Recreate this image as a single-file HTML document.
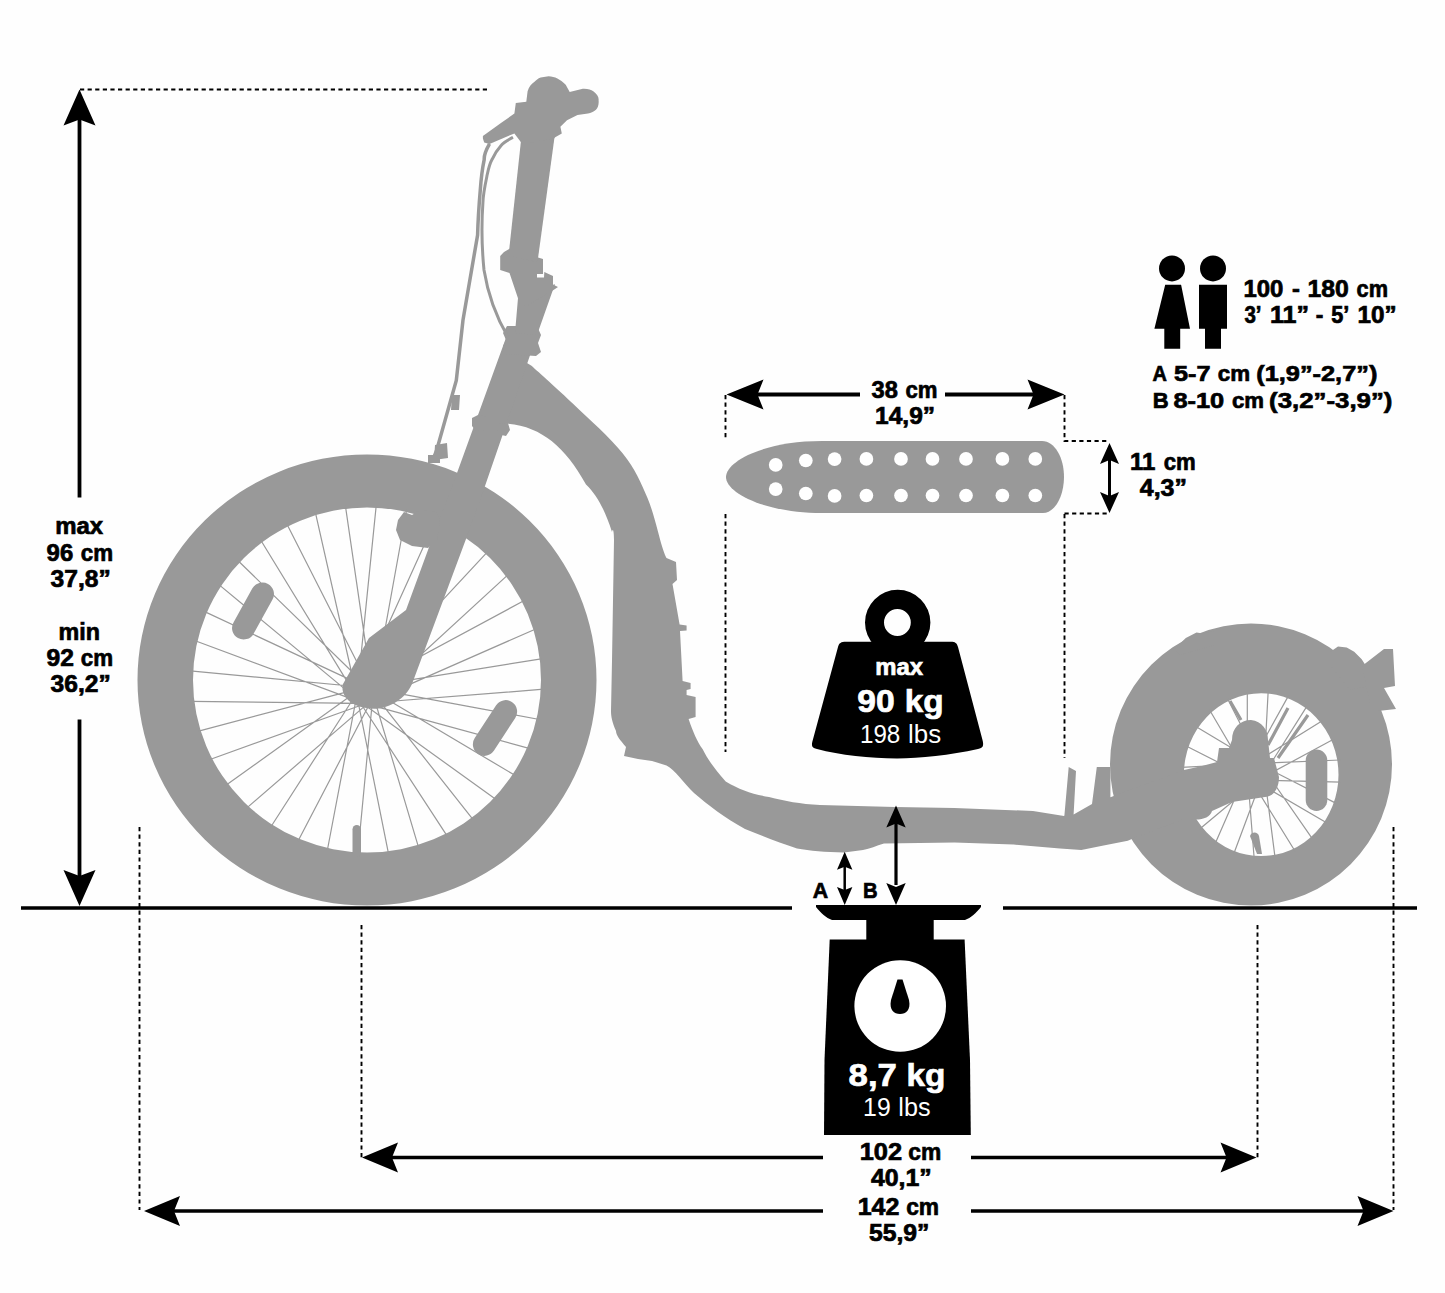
<!DOCTYPE html>
<html><head><meta charset="utf-8"><title>Scooter dimensions</title>
<style>
html,body{margin:0;padding:0;background:#fefefe;}
body{width:1445px;height:1293px;overflow:hidden;}
svg{display:block;}
text{font-family:"Liberation Sans", sans-serif;}
</style></head>
<body>
<svg width="1445" height="1293" viewBox="0 0 1445 1293">
<rect width="1445" height="1293" fill="#fefefe"/>
<path fill="#999999" fill-rule="evenodd" d="M137.5 680 a229.5 225.5 0 1 0 459 0 a229.5 225.5 0 1 0 -459 0 Z M193 680 a174 172.5 0 1 0 348 0 a174 172.5 0 1 0 -348 0 Z"/>
<path d="M369.1 703.0L543.8 689.2M371.1 688.4L539.5 719.5M366.1 703.9L529.9 748.6M373.0 690.9L515.4 775.6M363.0 703.8L496.4 799.7M373.9 693.9L473.5 820.2M360.1 702.5L447.4 836.4M373.8 697.0L418.7 847.8M357.8 700.4L388.6 854.2M372.5 699.9L357.7 855.3M356.4 697.6L327.2 851.0M370.4 702.2L297.8 841.5M356.0 694.5L270.6 827.2M367.6 703.6L246.3 808.4M356.7 691.5L225.6 785.6M364.5 704.0L209.3 759.7M358.4 688.9L197.7 731.3M361.5 703.3L191.3 701.4M360.9 687.0L190.2 670.8M358.9 701.6L194.5 640.5M363.9 686.1L204.1 611.4M357.0 699.1L218.6 584.4M367.0 686.2L237.6 560.3M356.1 696.1L260.5 539.8M369.9 687.5L286.6 523.6M356.2 693.0L315.3 512.2M372.2 689.6L345.4 505.8M357.5 690.1L376.3 504.7M373.6 692.4L406.8 509.0M359.6 687.8L436.2 518.5M374.0 695.5L463.4 532.8M362.4 686.4L487.7 551.6M373.3 698.5L508.4 574.4M365.5 686.0L524.7 600.3M371.6 701.1L536.3 628.7M368.5 686.7L542.7 658.6" stroke="#999999" stroke-width="1.2" fill="none"/>
<rect x="-11.5" y="-31" width="23" height="62" rx="11.5" fill="#999999" transform="translate(253 611) rotate(29)"/>
<rect x="-11.5" y="-31" width="23" height="62" rx="11.5" fill="#999999" transform="translate(495 728) rotate(33)"/>
<rect x="352.5" y="825" width="8.5" height="32" rx="4.25" fill="#999999"/>
<path fill="#999999" fill-rule="evenodd" d="M1110 764.5 a141 141 0 1 0 282 0 a141 141 0 1 0 -282 0 Z M1183.9 774.7 a77.3 81.4 0 1 0 154.6 0 a77.3 81.4 0 1 0 -154.6 0 Z"/>
<path d="M1261.7 780.2L1341.2 782.1M1264.7 767.0L1336.7 803.6M1256.9 782.0L1327.0 823.1M1266.0 772.0L1312.8 839.4M1251.8 781.1L1295.1 851.2M1264.7 777.0L1275.1 857.8M1247.8 777.7L1254.2 858.8M1261.0 780.7L1233.7 854.0M1246.0 772.9L1215.1 843.8M1256.0 782.0L1199.7 829.0M1246.9 767.8L1188.4 810.4M1251.0 780.7L1182.1 789.4M1250.3 763.8L1181.2 767.3M1247.3 777.0L1185.7 745.8M1255.1 762.0L1195.4 726.3M1246.0 772.0L1209.6 710.0M1260.2 762.9L1227.3 698.2M1247.3 767.0L1247.3 691.6M1264.2 766.3L1268.2 690.6M1251.0 763.3L1288.7 695.4M1266.0 771.1L1307.3 705.6M1256.0 762.0L1322.7 720.4M1265.1 776.2L1334.0 739.0M1261.0 763.3L1340.3 760.0" stroke="#999999" stroke-width="1.2" fill="none"/>
<path stroke="#999999" stroke-width="3.2" d="M1230 701 L1241 720 M1288 708 L1268 745 M1308 715 L1278 758"/>
<rect x="1305.7" y="749.6" width="21.6" height="61.3" rx="10.8" fill="#999999"/>
<path fill="#999999" d="M1250 836 C1252 831 1258 832 1259 836 L1262 854 L1257 854 Z"/>
<path fill="#999999" d="M1184 770 L1202 766 L1217 762 L1219 748 L1229 748 L1232 740 C1232 728 1240 720 1251 720 C1262 721 1268 730 1268 740 L1270 758 L1274 758 L1279 777 C1279 790 1272 797 1265 797 L1232 802 L1212 811 C1210 818 1200 821 1190 819 L1184 819 Z"/>
<path fill="#999999" d="M1175 650 L1179.4 644.3 L1185.8 637.9 L1196.5 632.5 L1203 633.6 L1215 631 L1215 645 L1180 655 Z M1330 652 L1338 646.5 L1346.7 647.5 L1354.2 651.8 L1361.7 659.3 L1366 666 L1373 685 L1350 690 L1330 665 Z"/>
<path fill="#999999" d="M1362 666 L1384 649 L1393 649 L1395 686 L1384 688 L1396 709 L1378 711 L1370 703 Z"/>
<path fill="#999999" d="M531.5 365.8 C538.5 372.2 558.1 389.4 573.3 404 C588.5 418.6 610.4 437.8 622.8 453.5 C635.2 469.2 640.9 482.3 647.5 498 C654.1 513.7 659.2 537.5 662.4 547.5 C665.6 557.5 665.8 556.2 666.5 558 L666.5 558 L676 562 L677 580 L672.5 584 L679.6 624.5 L686.6 625.5 L686.6 630.6 L680 631 L682.6 681 L690.6 683 L690.6 689 L686.6 690 L686.6 695 L695.6 697 L695.6 717 L688.6 719 C693 732 697 741 702.7 749.3 C708 760 714 768 725.7 781.5 C740 790 752 794 769 797 C785 801 800 804 820 805 L895 807 L954.5 808 L1033 811 L1064 816 L1064.4 815.6 L1068.7 767 L1076 771 L1073.6 814.6 L1092 804 L1096.8 767 L1110.4 767 L1110.4 797.2 L1184 770 L1184 819 L1136.5 837 L1127.8 840.8 L1103.6 845.6 L1081.3 850 L1060 848.5 L1013.6 844.6 L954.5 842.6 L884 843.6 C876 846 870 849 863 850 L844 852.5 C825 852 810 851 797 848.5 C780 843 762 836 745 829 C725 818 708 805 694 793 C684 783 675 770 666.5 765.4 L652 761 L638 759 L624 756 L626 747 C620 740 616 735 616 731 C612 722 611 716 611 711 L612 660.7 L614 540 C614 532 613 527 612 532 C605 510 597 495 586 484.4 C575 465 565 452 551.6 441 C540 432 525 425 508 423.8 L500 424 L522 360 Z"/>
<path fill="#999999" d="M507 335 L537 335 L485 486 L466 539 L412 684 C405 700 385 712 367 708 C350 706 340 695 343 684 L369 638 L406 610 L428 550 L457 473 Z"/>
<path fill="#999999" d="M398 520 L404 512 L412 515 L420 510 L436 512 L440 520 L437 540 L428 548 L412 546 L400 540 L396 530 Z"/>
<path fill="#999999" d="M472 418 L480 414 L487 418 L487 430 L476 431 L472 426 Z M499 424 L508 423 L510 430 L506 436 L497 434 Z"/>
<path fill="#999999" d="M507 326 L537 326 L541 335 L538 343 L541 352 L536 356 L504 354 L503 346 L506 340 L503 333 Z"/>
<path fill="#999999" d="M518 298 L525.7 300 L555 284 L537 335 L515 333 Z"/>
<path fill="#999999" d="M510 248.6 L535.6 256.7 L543 259 L543 274 L537 274 L537 277.6 L544 277.6 L544.3 272 L553 276 L553 284.5 L558 286.9 L553.5 290 L525.7 306.6 L520 304.3 L509.5 273 L500.2 270 L500.2 256 L504 252 Z"/>
<path fill="#999999" d="M521.5 136 L555.5 130 L537.5 262 L508.5 256 Z"/>
<path fill="#999999" d="M548.6 76.2 C555 76.5 560 79 565.7 84.7 L569.7 91.9 L582.8 88.7 C588 88.5 591 89.5 593.3 91.3 C597 94 599 97 598.6 100.5 C599 104 598 108 596 109.7 C593 112 591 113 588 113.6 L577.5 115 L567 120.2 L560.4 126.8 L561.8 133.4 L555.2 137.3 L553.9 138.6 L522.3 143.9 L514.4 133.4 L489.5 143.9 L484.2 142.6 L482.9 138.6 L482.9 136 L501.3 122.8 L514.4 113.6 L515.8 103.1 L526.3 101.8 L527.6 91.3 C529 87 531 84 534.2 82.1 C536 80 538 78.5 540.7 77.5 Z"/>
<path fill="none" stroke="#999999" stroke-width="3.5" d="M489.5 143.9 C486 150 484 156 484.2 159.6 C482 170 481 180 480.3 189.9 C479 205 478 220 477.6 235 L463 320 L456.3 380.5 L436.8 449.8 L432 462"/>
<path fill="none" stroke="#999999" stroke-width="3" d="M513 137.3 C508 140 504 142 501.3 145.2 C497 150 494 155 492 159.6 C489 165 488 171 486.8 176.7 C484 190 483 196 482.9 203 C481 230 482 250 484 270 C488 295 495 315 508 337"/>
<path fill="#999999" d="M452 395 L460 395 L459 410 L451 410 Z M435 445 L447 443 L448 458 L434 460 Z M428 455 L440 455 L440 463 L428 463 Z"/>
<path fill="#999999" d="M726 477 C726 461 765 441 822 441 L1042 441 C1055 441 1064 458 1064 477 C1064 496 1055 513 1043 513 L822 513 C765 513 726 493 726 477 Z"/>
<circle cx="775.7" cy="464.9" r="6.85" fill="#fff"/>
<circle cx="805.8" cy="460.5" r="6.85" fill="#fff"/>
<circle cx="834.6" cy="459.1" r="6.85" fill="#fff"/>
<circle cx="866.4" cy="458.9" r="6.85" fill="#fff"/>
<circle cx="901" cy="458.9" r="6.85" fill="#fff"/>
<circle cx="932.5" cy="458.9" r="6.85" fill="#fff"/>
<circle cx="966" cy="458.9" r="6.85" fill="#fff"/>
<circle cx="1002.4" cy="458.9" r="6.85" fill="#fff"/>
<circle cx="1035.3" cy="458.9" r="6.85" fill="#fff"/>
<circle cx="775.7" cy="489.1" r="6.85" fill="#fff"/>
<circle cx="805.8" cy="493.5" r="6.85" fill="#fff"/>
<circle cx="834.6" cy="495.9" r="6.85" fill="#fff"/>
<circle cx="866.4" cy="495.5" r="6.85" fill="#fff"/>
<circle cx="901" cy="495.5" r="6.85" fill="#fff"/>
<circle cx="932.5" cy="495.5" r="6.85" fill="#fff"/>
<circle cx="966" cy="495.5" r="6.85" fill="#fff"/>
<circle cx="1002.4" cy="495.5" r="6.85" fill="#fff"/>
<circle cx="1035.3" cy="495.5" r="6.85" fill="#fff"/>
<path stroke="#000" stroke-width="3.5" d="M21 908 L792 908 M1003 908 L1417 908"/>
<path stroke="#000" stroke-width="1.9" stroke-dasharray="4.2 3.4" fill="none" d="M80 89.5 L487 89.5"/>
<path stroke="#000" stroke-width="1.9" stroke-dasharray="4.2 3.4" fill="none" d="M139.5 827 L139.5 1210 M361.5 925 L361.5 1158 M1257.5 925 L1257.5 1158 M1393.5 827 L1393.5 1210"/>
<path stroke="#000" stroke-width="1.9" stroke-dasharray="4.2 3.4" fill="none" d="M725.5 395 L725.5 440 M725.5 514 L725.5 752 M1064.5 395 L1064.5 441 L1107 441 M1064.5 513.5 L1107 513.5 M1064.5 514 L1064.5 758"/>
<path stroke="#000" stroke-width="3.8" d="M79.5 118 L79.5 497.5 M79.5 719.5 L79.5 880"/>
<path fill="#000" d="M79.5 89.5 L63.5 125.5 L79.5 119.5 L95.5 125.5 Z"/>
<path fill="#000" d="M79.5 906 L63.5 870 L79.5 876 L95.5 870 Z"/>
<path stroke="#000" stroke-width="3.5" d="M390 1157.5 L823 1157.5 M971 1157.5 L1228 1157.5 M172 1211 L823 1211 M971 1211 L1365 1211"/>
<path fill="#000" d="M362 1157.5 L398 1142.5 L392 1157.5 L398 1172.5 Z"/>
<path fill="#000" d="M1256.5 1157.5 L1220.5 1142.5 L1226.5 1157.5 L1220.5 1172.5 Z"/>
<path fill="#000" d="M144 1211 L180 1196 L174 1211 L180 1226 Z"/>
<path fill="#000" d="M1393.5 1211 L1357.5 1196 L1363.5 1211 L1357.5 1226 Z"/>
<path stroke="#000" stroke-width="4" d="M755 394.5 L860 394.5 M945 394.5 L1036 394.5"/>
<path fill="#000" d="M726.5 394.5 L763.5 379.5 L757.5 394.5 L763.5 409.5 Z"/>
<path fill="#000" d="M1064.5 394.5 L1027.5 379.5 L1033.5 394.5 L1027.5 409.5 Z"/>
<path stroke="#000" stroke-width="3" d="M1109.5 460 L1109.5 497"/>
<path fill="#000" d="M1109.5 443 L1100.0 464 L1109.5 460 L1119.0 464 Z"/>
<path fill="#000" d="M1109.5 513 L1100.0 492 L1109.5 496 L1119.0 492 Z"/>
<path stroke="#000" stroke-width="2.5" d="M844.7 866 L844.7 890"/>
<path fill="#000" d="M844.7 851.7 L837.0 869.7 L844.7 866.7 L852.4000000000001 869.7 Z"/>
<path fill="#000" d="M844.7 905 L837.0 887 L844.7 890 L852.4000000000001 887 Z"/>
<path stroke="#000" stroke-width="3.2" d="M896 822 L896 885"/>
<path fill="#000" d="M896 805.4 L886.3 827.4 L896 823.4 L905.7 827.4 Z"/>
<path fill="#000" d="M896 905 L886.3 883 L896 887 L905.7 883 Z"/>
<path fill="#000" fill-rule="evenodd" d="M865 622.5 a32.7 32.7 0 1 0 65.4 0 a32.7 32.7 0 1 0 -65.4 0 Z M884 622.5 a13.4 13.4 0 1 0 26.8 0 a13.4 13.4 0 1 0 -26.8 0 Z"/>
<path fill="#000" d="M846 641.7 L951 641.7 C955 641.7 957 643 958 647 L982.5 740 C984 746 983 748 978 749 C950 755 920 758.5 897 758.5 C870 758.5 840 755 817 749 C812 748 811 746 812.8 740 L838 647 C839 643 841 641.7 846 641.7 Z"/>
<path fill="#000" d="M816 905 L981 905 L981 907 C976 913 971 918 965 920 L832 920 C826 918 821 913 816 907 Z M866.3 919 L933.7 919 L933.7 940 L866.3 940 Z"/>
<path fill="#000" d="M829.7 939.4 L964.6 939.4 L970 1060 L970.8 1135 L824 1135 L824.5 1060 Z"/>
<circle cx="900.2" cy="1006" r="45.8" fill="#fff"/>
<path fill="#000" d="M897.5 979.5 L902.5 979.5 L909 1000 C911 1010 906 1014 900 1014 C894 1014 889 1010 891 1000 Z"/>
<circle cx="1172" cy="268.4" r="13" fill="#000"/><circle cx="1213" cy="268.4" r="13" fill="#000"/>
<path fill="#000" d="M1165.2 284.8 L1181.1 284.8 L1190 328.8 L1154.4 328.8 Z M1164.3 328 L1180.2 328 L1180.2 348.7 L1164.3 348.7 Z"/>
<path fill="#000" d="M1199 284.8 L1227 284.8 L1227 328.8 L1199 328.8 Z M1205 328 L1221 328 L1221 348.7 L1205 348.7 Z"/>
<text x="55.20" y="533.6" font-size="23.5" font-weight="bold" fill="#000" stroke="#000" stroke-width="0.7" textLength="47.90" lengthAdjust="spacingAndGlyphs">max</text>
<text x="46.60" y="561.0" font-size="23.5" font-weight="bold" fill="#000" stroke="#000" stroke-width="0.7" textLength="26.60" lengthAdjust="spacingAndGlyphs">96</text>
<text x="80.80" y="561.0" font-size="23.5" font-weight="bold" fill="#000" stroke="#000" stroke-width="0.7" textLength="32.30" lengthAdjust="spacingAndGlyphs">cm</text>
<text x="50.60" y="587.1" font-size="23.5" font-weight="bold" fill="#000" stroke="#000" stroke-width="0.7" textLength="60.20" lengthAdjust="spacingAndGlyphs">37,8”</text>
<text x="58.60" y="640.0" font-size="23.5" font-weight="bold" fill="#000" stroke="#000" stroke-width="0.7" textLength="41.40" lengthAdjust="spacingAndGlyphs">min</text>
<text x="46.60" y="666.3" font-size="23.5" font-weight="bold" fill="#000" stroke="#000" stroke-width="0.7" textLength="27.40" lengthAdjust="spacingAndGlyphs">92</text>
<text x="80.80" y="666.3" font-size="23.5" font-weight="bold" fill="#000" stroke="#000" stroke-width="0.7" textLength="32.30" lengthAdjust="spacingAndGlyphs">cm</text>
<text x="50.60" y="692.3" font-size="23.5" font-weight="bold" fill="#000" stroke="#000" stroke-width="0.7" textLength="60.20" lengthAdjust="spacingAndGlyphs">36,2”</text>
<text x="871.60" y="397.7" font-size="23.5" font-weight="bold" fill="#000" stroke="#000" stroke-width="0.7" textLength="26.30" lengthAdjust="spacingAndGlyphs">38</text>
<text x="905.50" y="397.7" font-size="23.5" font-weight="bold" fill="#000" stroke="#000" stroke-width="0.7" textLength="32.00" lengthAdjust="spacingAndGlyphs">cm</text>
<text x="875.10" y="423.9" font-size="23.5" font-weight="bold" fill="#000" stroke="#000" stroke-width="0.7" textLength="60.00" lengthAdjust="spacingAndGlyphs">14,9”</text>
<text x="1129.90" y="469.9" font-size="23.5" font-weight="bold" fill="#000" stroke="#000" stroke-width="0.7" textLength="25.40" lengthAdjust="spacingAndGlyphs">11</text>
<text x="1163.80" y="469.9" font-size="23.5" font-weight="bold" fill="#000" stroke="#000" stroke-width="0.7" textLength="32.00" lengthAdjust="spacingAndGlyphs">cm</text>
<text x="1139.80" y="496.4" font-size="23.5" font-weight="bold" fill="#000" stroke="#000" stroke-width="0.7" textLength="47.20" lengthAdjust="spacingAndGlyphs">4,3”</text>
<text x="1243.40" y="296.8" font-size="23.5" font-weight="bold" fill="#000" stroke="#000" stroke-width="0.7" textLength="40.00" lengthAdjust="spacingAndGlyphs">100</text>
<text x="1292.00" y="296.8" font-size="23.5" font-weight="bold" fill="#000" stroke="#000" stroke-width="0.7" textLength="7.90" lengthAdjust="spacingAndGlyphs">-</text>
<text x="1307.50" y="296.8" font-size="23.5" font-weight="bold" fill="#000" stroke="#000" stroke-width="0.7" textLength="41.30" lengthAdjust="spacingAndGlyphs">180</text>
<text x="1356.60" y="296.8" font-size="23.5" font-weight="bold" fill="#000" stroke="#000" stroke-width="0.7" textLength="31.40" lengthAdjust="spacingAndGlyphs">cm</text>
<text x="1244.40" y="323.2" font-size="23.5" font-weight="bold" fill="#000" stroke="#000" stroke-width="0.7" textLength="17.10" lengthAdjust="spacingAndGlyphs">3’</text>
<text x="1269.90" y="323.2" font-size="23.5" font-weight="bold" fill="#000" stroke="#000" stroke-width="0.7" textLength="39.10" lengthAdjust="spacingAndGlyphs">11”</text>
<text x="1315.80" y="323.2" font-size="23.5" font-weight="bold" fill="#000" stroke="#000" stroke-width="0.7" textLength="7.60" lengthAdjust="spacingAndGlyphs">-</text>
<text x="1331.20" y="323.2" font-size="23.5" font-weight="bold" fill="#000" stroke="#000" stroke-width="0.7" textLength="18.10" lengthAdjust="spacingAndGlyphs">5’</text>
<text x="1357.50" y="323.2" font-size="23.5" font-weight="bold" fill="#000" stroke="#000" stroke-width="0.7" textLength="39.10" lengthAdjust="spacingAndGlyphs">10”</text>
<text x="1152.40" y="381.1" font-size="22.5" font-weight="bold" fill="#000" stroke="#000" stroke-width="0.7" textLength="14.40" lengthAdjust="spacingAndGlyphs">A</text>
<text x="1174.00" y="381.1" font-size="22.5" font-weight="bold" fill="#000" stroke="#000" stroke-width="0.7" textLength="36.50" lengthAdjust="spacingAndGlyphs">5-7</text>
<text x="1217.80" y="381.1" font-size="22.5" font-weight="bold" fill="#000" stroke="#000" stroke-width="0.7" textLength="32.30" lengthAdjust="spacingAndGlyphs">cm</text>
<text x="1256.20" y="381.1" font-size="22.5" font-weight="bold" fill="#000" stroke="#000" stroke-width="0.7" textLength="121.20" lengthAdjust="spacingAndGlyphs">(1,9”-2,7”)</text>
<text x="1152.70" y="407.6" font-size="22.5" font-weight="bold" fill="#000" stroke="#000" stroke-width="0.7" textLength="15.90" lengthAdjust="spacingAndGlyphs">B</text>
<text x="1173.40" y="407.6" font-size="22.5" font-weight="bold" fill="#000" stroke="#000" stroke-width="0.7" textLength="50.80" lengthAdjust="spacingAndGlyphs">8-10</text>
<text x="1231.90" y="407.6" font-size="22.5" font-weight="bold" fill="#000" stroke="#000" stroke-width="0.7" textLength="32.10" lengthAdjust="spacingAndGlyphs">cm</text>
<text x="1269.10" y="407.6" font-size="22.5" font-weight="bold" fill="#000" stroke="#000" stroke-width="0.7" textLength="123.30" lengthAdjust="spacingAndGlyphs">(3,2”-3,9”)</text>
<text x="812.80" y="898.0" font-size="22.5" font-weight="bold" fill="#000" stroke="#000" stroke-width="0.7" textLength="15.40" lengthAdjust="spacingAndGlyphs">A</text>
<text x="862.90" y="897.5" font-size="22.5" font-weight="bold" fill="#000" stroke="#000" stroke-width="0.7" textLength="14.60" lengthAdjust="spacingAndGlyphs">B</text>
<text x="875.30" y="674.7" font-size="24" font-weight="bold" fill="#fff" stroke="#fff" stroke-width="0.7" textLength="47.80" lengthAdjust="spacingAndGlyphs">max</text>
<text x="857.30" y="712.3" font-size="31.5" font-weight="bold" fill="#fff" stroke="#fff" stroke-width="0.7" textLength="37.40" lengthAdjust="spacingAndGlyphs">90</text>
<text x="904.70" y="712.3" font-size="31.5" font-weight="bold" fill="#fff" stroke="#fff" stroke-width="0.7" textLength="38.90" lengthAdjust="spacingAndGlyphs">kg</text>
<text x="860.00" y="742.8" font-size="25.5" font-weight="normal" fill="#fff" textLength="40.30" lengthAdjust="spacingAndGlyphs">198</text>
<text x="908.00" y="742.8" font-size="25.5" font-weight="normal" fill="#fff" textLength="33.10" lengthAdjust="spacingAndGlyphs">lbs</text>
<text x="848.60" y="1085.6" font-size="31.5" font-weight="bold" fill="#fff" stroke="#fff" stroke-width="0.7" textLength="48.30" lengthAdjust="spacingAndGlyphs">8,7</text>
<text x="906.40" y="1085.6" font-size="31.5" font-weight="bold" fill="#fff" stroke="#fff" stroke-width="0.7" textLength="38.90" lengthAdjust="spacingAndGlyphs">kg</text>
<text x="863.10" y="1116.3" font-size="25.5" font-weight="normal" fill="#fff" textLength="27.60" lengthAdjust="spacingAndGlyphs">19</text>
<text x="898.30" y="1116.3" font-size="25.5" font-weight="normal" fill="#fff" textLength="32.20" lengthAdjust="spacingAndGlyphs">lbs</text>
<text x="859.70" y="1159.7" font-size="23.5" font-weight="bold" fill="#000" stroke="#000" stroke-width="0.7" textLength="42.40" lengthAdjust="spacingAndGlyphs">102</text>
<text x="908.30" y="1159.7" font-size="23.5" font-weight="bold" fill="#000" stroke="#000" stroke-width="0.7" textLength="32.90" lengthAdjust="spacingAndGlyphs">cm</text>
<text x="870.90" y="1186.1" font-size="23.5" font-weight="bold" fill="#000" stroke="#000" stroke-width="0.7" textLength="60.90" lengthAdjust="spacingAndGlyphs">40,1”</text>
<text x="857.70" y="1215.0" font-size="23.5" font-weight="bold" fill="#000" stroke="#000" stroke-width="0.7" textLength="41.80" lengthAdjust="spacingAndGlyphs">142</text>
<text x="906.20" y="1215.0" font-size="23.5" font-weight="bold" fill="#000" stroke="#000" stroke-width="0.7" textLength="32.90" lengthAdjust="spacingAndGlyphs">cm</text>
<text x="869.00" y="1241.4" font-size="23.5" font-weight="bold" fill="#000" stroke="#000" stroke-width="0.7" textLength="60.50" lengthAdjust="spacingAndGlyphs">55,9”</text>
</svg>
</body></html>
